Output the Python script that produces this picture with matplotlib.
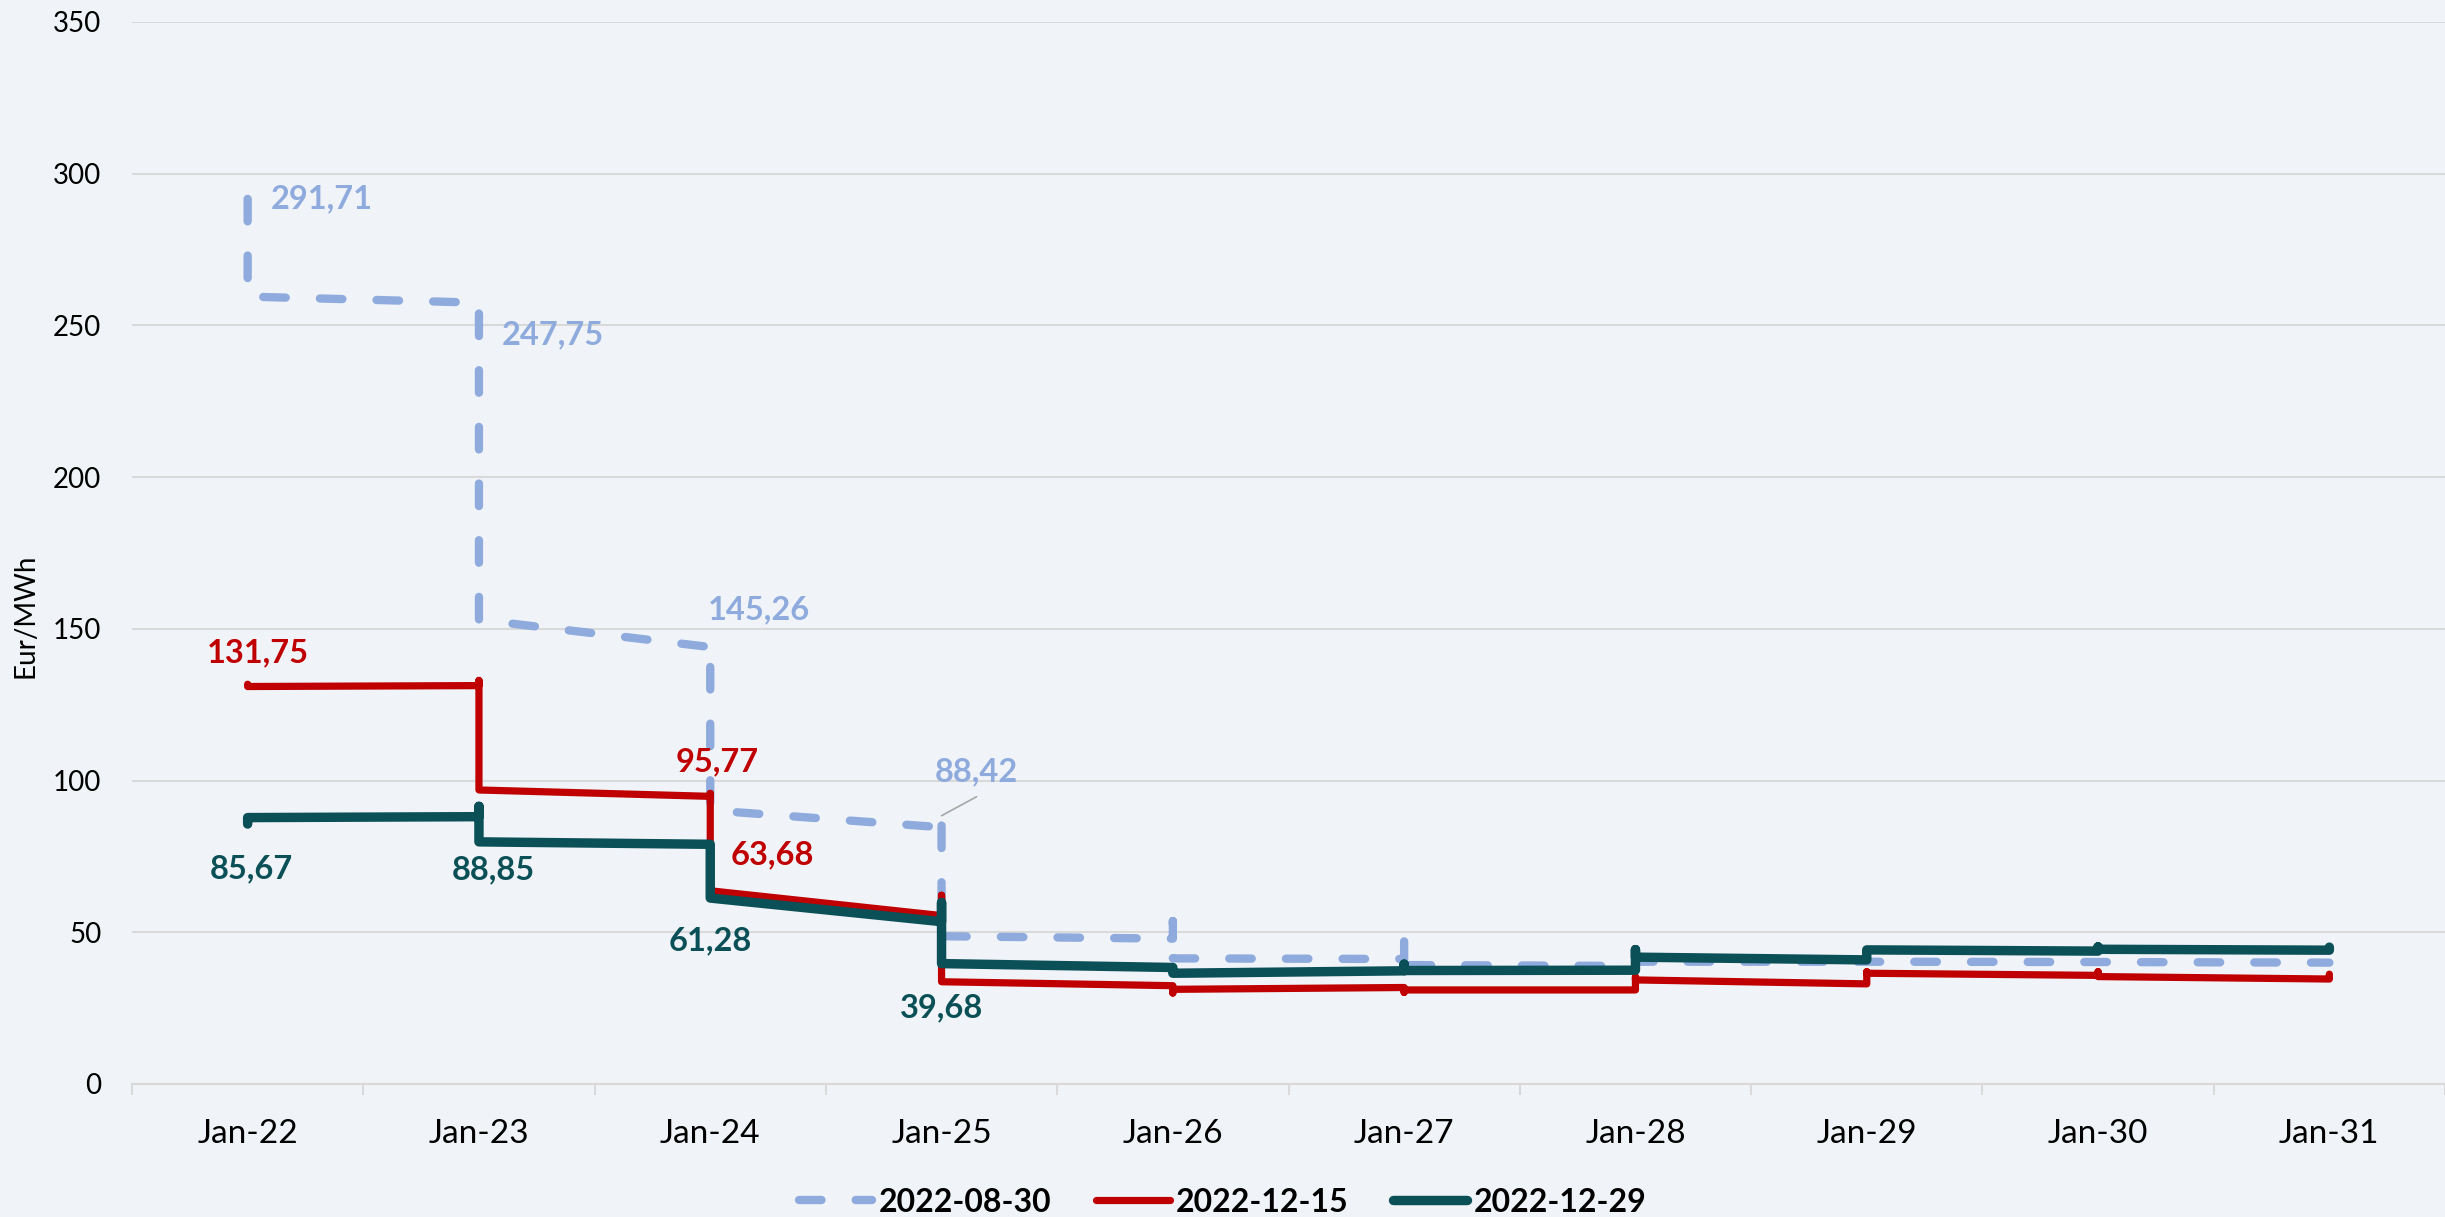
import matplotlib.pyplot as plt
from matplotlib.lines import Line2D

years = ['Jan-22', 'Jan-23', 'Jan-24', 'Jan-25', 'Jan-26',
         'Jan-27', 'Jan-28', 'Jan-29', 'Jan-30', 'Jan-31']
names = ['2022-08-30', '2022-12-15', '2022-12-29']

# each yearly leg: value where it starts and where it ends,
# plus the extra value shown on the vertical at each year boundary
aug_start = [259.5, 153.0, 90.2, 48.7, 41.4, 39.2, 40.3, 40.3, 40.2]
aug_end = [257.5, 144.0, 84.6, 47.9, 41.2, 38.9, 40.3, 40.2, 40.0]
aug_peak = [291.71, 247.75, 145.26, 88.42, 53.7, 48.0, None, None, None, None]

dec15_start = [131.0, 96.9, 63.68, 33.7, 31.2, 31.0, 34.3, 36.5, 35.4]
dec15_end = [131.3, 94.8, 55.5, 32.4, 31.8, 31.0, 33.0, 35.8, 34.6]
dec15_peak = [131.75, 133.0, 95.77, 62.2, 30.0, 30.2, 35.3, 37.0, 37.0, 36.2]

dec29_start = [87.8, 79.8, 61.28, 39.68, 36.5, 37.4, 41.8, 44.2, 44.4]
dec29_end = [88.1, 79.0, 53.5, 38.4, 37.3, 37.5, 40.9, 43.8, 44.1]
dec29_peak = [85.67, 91.5, None, 59.8, None, 39.5, 44.3, None, 45.2, 45.1]

# data labels: category index and value
aug_lbl_idx = [0, 1, 2, 3]
aug_lbl_val = [291.71, 247.75, 145.26, 88.42]
dec15_lbl_idx = [0, 2, 2]
dec15_lbl_val = [131.75, 95.77, 63.68]
dec29_lbl_idx = [0, 1, 2, 3]
dec29_lbl_val = [85.67, 88.85, 61.28, 39.68]

c_aug = '#8FAADC'
c_d15 = '#C00000'
c_d29 = '#0B5057'
grid_c = '#D9D9D9'
bg = '#F0F4F8'

plt.rcParams['font.family'] = ['Lato', 'DejaVu Sans']


def build_path(start, end, peak):
    xs, ys = [], []
    for k in range(len(years)):
        if k > 0:
            xs.append(k)
            ys.append(end[k - 1])
        if peak[k] is not None:
            xs.append(k)
            ys.append(peak[k])
        if k < len(start):
            xs.append(k)
            ys.append(start[k])
    return xs, ys


def fmt(v):
    return f'{v:.2f}'.replace('.', ',')


fig = plt.figure(figsize=(24.45, 12.17), dpi=100, facecolor=bg)
ax = fig.add_axes([132 / 2445, 1 - 1084 / 1217, (2445 - 132) / 2445, (1084 - 22) / 1217])
ax.set_facecolor(bg)

x, y = build_path(aug_start, aug_end, aug_peak)
ax.plot(x, y, color=c_aug, lw=6.0, dashes=(2.7, 4.1), dash_capstyle='round',
        dash_joinstyle='round', zorder=3)
x, y = build_path(dec15_start, dec15_end, dec15_peak)
ax.plot(x, y, color=c_d15, lw=5.2, solid_capstyle='round', solid_joinstyle='round', zorder=4)
x, y = build_path(dec29_start, dec29_end, dec29_peak)
ax.plot(x, y, color=c_d29, lw=6.8, solid_capstyle='round', solid_joinstyle='round', zorder=5)

# label offsets in pixels (label centre relative to the point)
aug_off = [(23, 0, 'left'), (23, -3, 'left'), (-2, 33, 'left'), (35, 44, 'center')]
d15_off = [(10, 31), (7, 32), (62, 36)]
d29_off = [(4, -45), (14, -55), (0, -43), (0, -44)]

for i, v, (dx, dy, ha) in zip(aug_lbl_idx, aug_lbl_val, aug_off):
    ax.annotate(fmt(v), xy=(i, v), xytext=(dx, dy), textcoords='offset pixels',
                ha=ha, va='center', color=c_aug, fontsize=23.5, fontweight='bold', zorder=6)
# leader line for the last light blue label
ax.annotate('', xy=(aug_lbl_idx[3], aug_lbl_val[3]), xytext=(35, 19), textcoords='offset pixels',
            arrowprops=dict(arrowstyle='-', color='#A6A6A6', lw=1.2, shrinkA=0, shrinkB=0))
for i, v, (dx, dy) in zip(dec15_lbl_idx, dec15_lbl_val, d15_off):
    ax.annotate(fmt(v), xy=(i, v), xytext=(dx, dy), textcoords='offset pixels',
                ha='center', va='center', color=c_d15, fontsize=23.5, fontweight='bold', zorder=6)
for i, v, (dx, dy) in zip(dec29_lbl_idx, dec29_lbl_val, d29_off):
    ax.annotate(fmt(v), xy=(i, v), xytext=(dx, dy), textcoords='offset pixels',
                ha='center', va='center', color=c_d29, fontsize=23.5, fontweight='bold', zorder=6)

ax.set_xlim(-0.5, len(years) - 0.5)
ax.set_ylim(0, 350)
ax.set_yticks(range(0, 351, 50))
ax.set_xticks(range(len(years)))
ax.set_xticklabels(years)
ax.set_xticks([i - 0.5 for i in range(len(years) + 1)], minor=True)
ax.tick_params(axis='x', which='major', length=0, pad=25, labelsize=24)
ax.tick_params(axis='x', which='minor', length=8, width=1.5, color=grid_c)
ax.tick_params(axis='y', length=0, pad=22, labelsize=20)

ax.grid(axis='y', color=grid_c, lw=1.5, zorder=0)
ax.set_axisbelow(True)
for s in ['left', 'right', 'top']:
    ax.spines[s].set_visible(False)
ax.spines['bottom'].set_color(grid_c)
ax.spines['bottom'].set_linewidth(1.5)

fig.text(25 / 2445, 1 - 616 / 1217, 'Eur/MWh', rotation=90, ha='center', va='center', fontsize=20)

handles = [
    Line2D([], [], color=c_aug, lw=6.0, dashes=(2.7, 4.1), dash_capstyle='round'),
    Line2D([], [], color=c_d15, lw=5.2, solid_capstyle='round'),
    Line2D([], [], color=c_d29, lw=6.8, solid_capstyle='round'),
]
fig.legend(handles, names, loc='center', bbox_to_anchor=(0.5, 1 - 1202 / 1217), ncol=3,
           frameon=False, handlelength=2.3, handletextpad=0.2, columnspacing=1.4,
           borderpad=0, prop={'weight': 'bold', 'size': 23})

fig.savefig('out.png', dpi=100, facecolor=bg)
